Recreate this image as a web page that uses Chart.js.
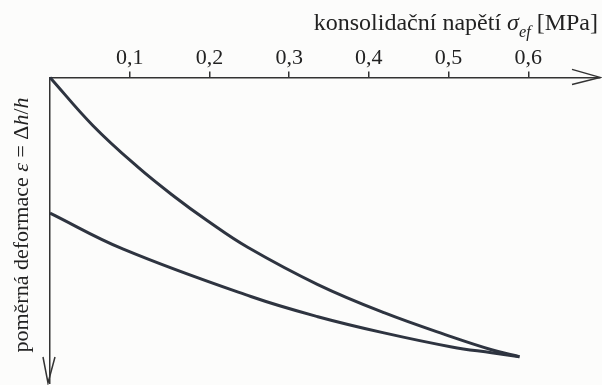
<!DOCTYPE html>
<html>
<head>
<meta charset="utf-8">
<script src="https://cdn.jsdelivr.net/npm/chart.js@4"></script>
<style>
  html, body { margin: 0; padding: 0; background: #fcfcfb; }
  #wrap { width: 602px; height: 385px; }
</style>
</head>
<body>
<div id="wrap"><canvas id="myChart"></canvas></div>
<script>
// sigma_ef [MPa] vs. relative strain (no scale printed on the strain axis)
const sigmaLoad = [0, 0.054, 0.110, 0.155, 0.198, 0.248, 0.336, 0.419, 0.504, 0.554, 0.589];
const epsLoad = [0, 0.158, 0.293, 0.388, 0.470, 0.556, 0.678, 0.770, 0.849, 0.891, 0.914];
const sigmaUnload = [0, 0.092, 0.252, 0.336, 0.419, 0.504, 0.554, 0.589];
const epsUnload = [0.444, 0.562, 0.717, 0.783, 0.836, 0.882, 0.901, 0.914];
const xTicks = [0.1, 0.2, 0.3, 0.4, 0.5, 0.6];

const ink = "#2e3440";
const serif = "'Liberation Serif', 'DejaVu Serif', serif";

// draw a list of [text, style] runs, style: {italic, sub}
function drawRuns(ctx, runs, x, y, size) {
  runs.forEach(([txt, st]) => {
    st = st || {};
    const fs = st.sub ? size * 0.68 : size;
    ctx.font = (st.italic ? "italic " : "") + fs + "px " + serif;
    ctx.fillText(txt, x, y + (st.sub ? size * 0.28 : 0));
    x += ctx.measureText(txt).width;
  });
}
function runsWidth(ctx, runs, size) {
  let w = 0;
  runs.forEach(([txt, st]) => {
    st = st || {};
    const fs = st.sub ? size * 0.68 : size;
    ctx.font = (st.italic ? "italic " : "") + fs + "px " + serif;
    w += ctx.measureText(txt).width;
  });
  return w;
}

const axisDecor = {
  id: "axisDecor",
  afterDraw(chart) {
    const { ctx, chartArea: a } = chart;
    ctx.save();
    ctx.strokeStyle = "#333";
    ctx.lineWidth = 1.5;
    // arrow heads
    ctx.beginPath();
    ctx.moveTo(a.right - 28, a.top - 8);
    ctx.lineTo(a.right, a.top);
    ctx.lineTo(a.right - 28, a.top + 7);
    ctx.moveTo(a.left - 7, a.bottom - 26);
    ctx.lineTo(a.left - 2, a.bottom);
    ctx.lineTo(a.left + 5, a.bottom - 26);
    ctx.stroke();

    ctx.fillStyle = "#222";
    ctx.textBaseline = "alphabetic";
    const xTitle = [["konsolidační napětí "], ["σ", { italic: true }], ["ef", { italic: true, sub: true }], [" [MPa]"]];
    drawRuns(ctx, xTitle, 598 - runsWidth(ctx, xTitle, 24), 30, 24);

    const yTitle = [["poměrná deformace "], ["ε", { italic: true }], [" = Δ"], ["h", { italic: true }], ["/"], ["h", { italic: true }]];
    const w = runsWidth(ctx, yTitle, 22);
    ctx.translate(28, 225);
    ctx.rotate(-Math.PI / 2);
    drawRuns(ctx, yTitle, -w / 2, 0, 22);
    ctx.restore();
  }
};

new Chart(document.getElementById("myChart"), {
  type: "scatter",
  data: {
    datasets: [
      {
        label: "zatěžování",
        data: sigmaLoad.map((s, i) => ({ x: s, y: epsLoad[i] })),
        showLine: true,
        borderColor: ink,
        borderWidth: 3,
        pointRadius: 0,
        tension: 0.4,
        clip: false,
      },
      {
        label: "odlehčení",
        data: sigmaUnload.map((s, i) => ({ x: s, y: epsUnload[i] })),
        showLine: true,
        borderColor: ink,
        borderWidth: 3,
        pointRadius: 0,
        tension: 0.4,
        clip: false,
      },
    ],
  },
  options: {
    responsive: true,
    maintainAspectRatio: false,
    animation: false,
    layout: { padding: { top: 45, left: 50, right: 2, bottom: 2 } },
    plugins: { legend: { display: false }, tooltip: { enabled: false } },
    scales: {
      x: {
        type: "linear",
        position: "top",
        min: 0,
        max: 0.69,
        afterBuildTicks: (s) => { s.ticks = xTicks.map((v) => ({ value: v })); },
        ticks: {
          color: "#222",
          font: { family: serif, size: 22 },
          padding: 0,
          maxRotation: 0,
          callback: (v) => v.toFixed(1).replace(".", ","),
        },
        grid: { drawOnChartArea: false, drawTicks: true, tickLength: 6, color: "#333", lineWidth: 1.5 },
        border: { display: true, color: "#333", width: 1.5 },
      },
      y: {
        reverse: true,
        min: 0,
        max: 1,
        ticks: { display: false },
        grid: { drawOnChartArea: false, drawTicks: false },
        border: { display: true, color: "#333", width: 1.5 },
      },
    },
  },
  plugins: [axisDecor],
});
</script>
</body>
</html>
